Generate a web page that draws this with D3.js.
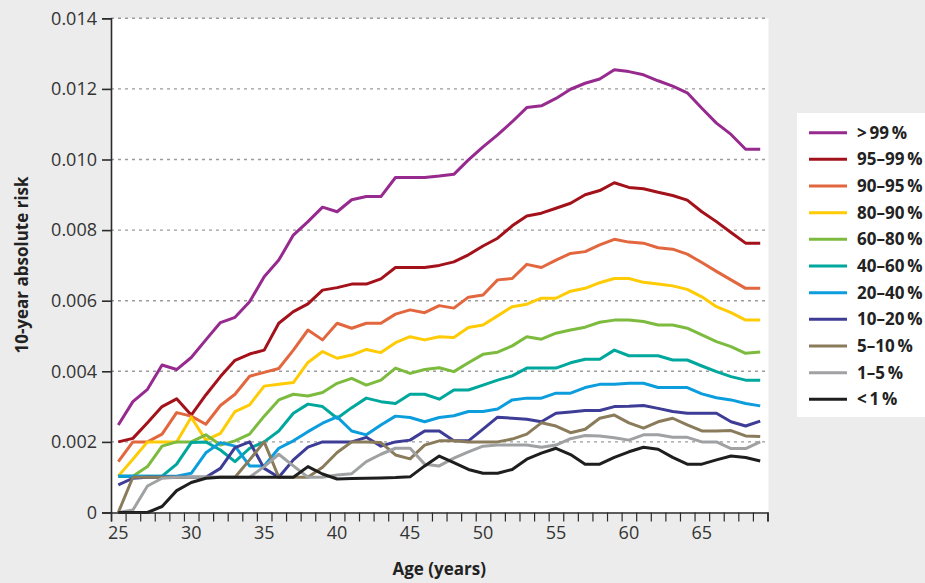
<!DOCTYPE html>
<html><head><meta charset="utf-8">
<script src="https://cdn.jsdelivr.net/npm/d3@7/dist/d3.min.js"></script>
<style>
html,body{margin:0;padding:0;background:#ebeceb;}
svg{display:block;font-family:"Open Sans",sans-serif;}
</style></head>
<body>
<svg id="chart" width="925" height="583"></svg>
<script>
const ages = [25,26,27,28,29,30,31,32,33,34,35,36,37,38,39,40,41,42,43,44,45,46,47,48,49,50,51,52,53,54,55,56,57,58,59,60,61,62,63,64,65,66,67,68,69];
const xTickLabels = [25,30,35,40,45,50,55,60,65];
const yTickValues = [0,0.002,0.004,0.006,0.008,0.010,0.012,0.014];
const seriesNames = [">\u200999\u2009%","95\u201399\u2009%","90\u201395\u2009%","80\u201390\u2009%","60\u201380\u2009%","40\u201360\u2009%","20\u201340\u2009%","10\u201320\u2009%","5\u201310\u2009%","1\u20135\u2009%","<\u20091\u2009%"];
const seriesColors = ["#962a8e","#a3111b","#e2673e","#ffcb05","#7cbb3e","#00a79c","#0c9ddc","#3d3c96","#8a7b5b","#a0a1a3","#1e1e1e"];

const p99 = [0.00248,0.00314,0.00349,0.00418,0.00405,0.00439,0.00489,0.00538,0.00553,0.00597,
0.00668,0.00715,0.00786,0.00824,0.00865,0.00852,0.00886,0.00895,0.00895,0.00949,
0.00949,0.00949,0.00953,0.00958,0.00999,0.01036,0.0107,0.01107,0.01147,0.01152,
0.01173,0.01199,0.01216,0.01228,0.01254,0.01249,0.0124,0.01223,0.01208,0.01189,
0.01145,0.01103,0.01071,0.01029,0.01029];
const p95 = [0.0020,0.0021,0.00254,0.0030,0.00322,0.00276,0.00333,0.00385,0.00431,0.00449,
0.0046,0.00536,0.00569,0.00591,0.0063,0.00637,0.00647,0.00647,0.00662,0.00694,
0.00694,0.00694,0.0070,0.0071,0.0073,0.00755,0.00777,0.00812,0.0084,0.00848,
0.00862,0.00876,0.0090,0.00912,0.00934,0.00921,0.00917,0.00907,0.00898,0.00885,
0.00852,0.00824,0.00793,0.00763,0.00763];
const p90 = [0.00144,0.0020,0.0020,0.00222,0.00283,0.00273,0.0025,0.00303,0.00335,0.00386,
0.00397,0.00408,0.0046,0.00517,0.00489,0.00536,0.00522,0.00536,0.00536,0.00562,
0.00574,0.00566,0.00586,0.00579,0.0061,0.00616,0.00659,0.00663,0.00703,0.00694,
0.00715,0.00734,0.00739,0.00758,0.00774,0.00766,0.00763,0.0075,0.00746,0.00732,
0.00708,0.00683,0.00659,0.00635,0.00635];
const p80 = [0.00103,0.00151,0.0020,0.0020,0.0020,0.0027,0.00205,0.00224,0.00286,0.00305,
0.00358,0.00363,0.00368,0.00425,0.00456,0.00437,0.00446,0.00462,0.00453,0.00481,
0.00498,0.00489,0.00498,0.00496,0.00524,0.00531,0.00557,0.00583,0.0059,0.00607,
0.00607,0.00627,0.00635,0.00651,0.00663,0.00663,0.00652,0.00647,0.00642,0.00632,
0.00611,0.00583,0.00566,0.00545,0.00545];
const p60 = [0.00103,0.00103,0.0013,0.00188,0.0020,0.0020,0.0022,0.00191,0.00203,0.00222,
0.00273,0.00319,0.00335,0.0033,0.0034,0.00366,0.0038,0.00361,0.00375,0.00409,
0.00394,0.00405,0.0041,0.00399,0.00424,0.00448,0.00454,0.00472,0.00498,0.00491,
0.00508,0.00517,0.00525,0.00539,0.00545,0.00545,0.00541,0.00531,0.00531,0.00522,
0.00503,0.00484,0.0047,0.00451,0.00455];
const p40 = [0.00103,0.00103,0.00103,0.00103,0.00137,0.00198,0.0020,0.00177,0.00144,0.00182,
0.0020,0.00231,0.00281,0.00307,0.0030,0.00267,0.00297,0.00324,0.00314,0.00309,
0.00335,0.00335,0.00321,0.00347,0.00347,0.00361,0.00375,0.00387,0.00409,0.00409,
0.00409,0.00424,0.00434,0.00434,0.0046,0.00444,0.00444,0.00444,0.00432,0.00432,
0.00415,0.00399,0.00385,0.00375,0.00375];
const p20 = [0.00103,0.00103,0.00103,0.00103,0.00103,0.00111,0.00169,0.00198,0.00188,0.00132,
0.00132,0.00182,0.00203,0.00229,0.00253,0.00271,0.00231,0.0022,0.00248,0.00273,
0.00269,0.00257,0.00269,0.00274,0.00286,0.00286,0.00293,0.00319,0.00324,0.00324,
0.00338,0.00338,0.00354,0.00363,0.00363,0.00366,0.00366,0.00354,0.00354,0.00354,
0.00336,0.00325,0.00319,0.00309,0.00302];
const p10 = [0.00078,0.00097,0.0010,0.0010,0.0010,0.0010,0.0010,0.00125,0.00184,0.0020,
0.00125,0.0010,0.00149,0.00185,0.0020,0.0020,0.0020,0.00213,0.00188,0.0020,
0.00205,0.00231,0.00231,0.00203,0.00203,0.00236,0.0027,0.00267,0.00264,0.00257,
0.00281,0.00285,0.00289,0.00289,0.003,0.00301,0.00303,0.00295,0.00286,0.00281,
0.00281,0.00281,0.00257,0.00245,0.00259];
const p5 = [0,0.0010,0.0010,0.0010,0.0010,0.0010,0.0010,0.0010,0.0010,0.00149,
0.0020,0.0010,0.0010,0.0010,0.00128,0.0017,0.0020,0.0020,0.00198,0.00163,
0.00152,0.00191,0.00203,0.00203,0.0020,0.0020,0.0020,0.00208,0.00222,0.00254,
0.00245,0.00226,0.00236,0.00267,0.00276,0.00254,0.00239,0.00257,0.00267,0.00248,
0.00231,0.00231,0.00232,0.00217,0.00215];
const p1 = [0,0.00007,0.00075,0.00097,0.0010,0.0010,0.0010,0.0010,0.0010,0.0010,
0.0013,0.00165,0.00132,0.0010,0.0010,0.00106,0.0011,0.00144,0.00165,0.00182,
0.00182,0.00137,0.00132,0.00154,0.00172,0.00188,0.00191,0.00191,0.00191,0.00185,
0.00191,0.00209,0.00218,0.00217,0.00212,0.00205,0.0022,0.0022,0.00213,0.00213,
0.0020,0.0020,0.00181,0.00181,0.0020];
const p0 = [0,0,0,0.00017,0.00062,0.00085,0.00097,0.0010,0.0010,0.0010,
0.0010,0.0010,0.0010,0.0013,0.00109,0.00095,0.00096,0.00097,0.00098,0.00099,
0.00101,0.00132,0.0016,0.00141,0.00122,0.00111,0.00111,0.00122,0.00151,0.00168,
0.00182,0.00164,0.00137,0.00137,0.00156,0.00172,0.00185,0.00179,0.00156,0.00137,
0.00137,0.00149,0.0016,0.00156,0.00146];

const seriesValues = [p99,p95,p90,p80,p60,p40,p20,p10,p5,p1,p0];

const svg = d3.select("#chart");
const pLeft = 111, pRight = 767.5, pTop = 18.3, pBottom = 512.5;

const x = d3.scaleBand().domain(ages).range([pLeft, pRight]).paddingInner(0).paddingOuter(0);
const xb = d3.scaleLinear().domain([ages[0]-0.5, ages[ages.length-1]+0.5]).range([pLeft, pRight]);
const y = d3.scaleLinear().domain([0, 0.014]).range([pBottom, pTop]);

// plot background
svg.append("rect").attr("x", pLeft).attr("y", pTop).attr("width", pRight-pLeft+1).attr("height", pBottom-pTop)
  .attr("fill", "#ffffff");

// gridlines
svg.append("g").selectAll("line").data(yTickValues.filter(d => d > 0)).join("line")
  .attr("x1", pLeft).attr("x2", pRight)
  .attr("y1", d => y(d)).attr("y2", d => y(d))
  .attr("stroke", "#9b9b9b").attr("stroke-width", 1.4).attr("stroke-dasharray", "3,4");

// series lines
const line = d3.line().x((d, i) => x(ages[i]) + x.bandwidth()/2).y(d => y(d));
svg.append("g").selectAll("path").data(seriesValues).join("path")
  .attr("d", d => line(d))
  .attr("fill", "none")
  .attr("stroke", (d, i) => seriesColors[i])
  .attr("stroke-width", 3)
  .attr("stroke-linejoin", "round");

// y axis
const yAxis = d3.axisLeft(y).tickValues(yTickValues)
  .tickFormat(d => d === 0 ? "0" : d.toFixed(3)).tickSize(9).tickPadding(5);
const gy = svg.append("g").attr("transform", `translate(${pLeft},0)`).call(yAxis);
gy.select(".domain").attr("stroke", "#2b2b2b").attr("stroke-width", 1.6);
gy.selectAll(".tick line").attr("stroke", "#2b2b2b").attr("stroke-width", 1.6);
gy.selectAll(".tick text").attr("fill", "#333").style("font-size", "18px").style("font-family", "'Open Sans',sans-serif");

// x axis: minor ticks at category boundaries
const xAxisTicks = d3.axisBottom(xb).tickValues(d3.range(ages.length + 1).map(i => ages[0] - 0.5 + i))
  .tickFormat("").tickSize(9);
const gxt = svg.append("g").attr("transform", `translate(0,${pBottom})`).call(xAxisTicks);
gxt.select(".domain").attr("stroke", "#2b2b2b").attr("stroke-width", 1.6);
gxt.selectAll(".tick line").attr("stroke", "#2b2b2b").attr("stroke-width", 1.2);

// x axis labels
const xAxisLabels = d3.axisBottom(x).tickValues(xTickLabels).tickSize(0).tickPadding(14);
const gxl = svg.append("g").attr("transform", `translate(0,${pBottom})`).call(xAxisLabels);
gxl.select(".domain").remove();
gxl.selectAll(".tick text").attr("fill", "#333").style("font-size", "18px").style("font-family", "'Open Sans',sans-serif");

// axis titles
svg.append("text").attr("x", (pLeft+pRight)/2).attr("y", 575)
  .attr("text-anchor", "middle").attr("fill", "#222")
  .style("font-size", "17px").style("font-weight", "bold").text("Age (years)");
svg.append("text").attr("transform", `translate(28,265) rotate(-90)`)
  .attr("text-anchor", "middle").attr("fill", "#222")
  .style("font-size", "17px").style("font-weight", "bold").text("10-year absolute risk");

// legend
const lg = svg.append("g");
lg.append("rect").attr("x", 797).attr("y", 113).attr("width", 140).attr("height", 304).attr("fill", "#fff");
const items = lg.selectAll("g.item").data(seriesNames).join("g").attr("class", "item")
  .attr("transform", (d, i) => `translate(0,${132.7 + i*26.66})`);
items.append("line").attr("x1", 809).attr("x2", 847).attr("y1", 0).attr("y2", 0)
  .attr("stroke", (d, i) => seriesColors[i]).attr("stroke-width", 3);
items.append("text").attr("x", 857).attr("y", 0).attr("dy", "0.36em")
  .attr("fill", "#222").style("font-size", "17px").style("font-weight", "bold").text(d => d);
</script>
</body></html>
